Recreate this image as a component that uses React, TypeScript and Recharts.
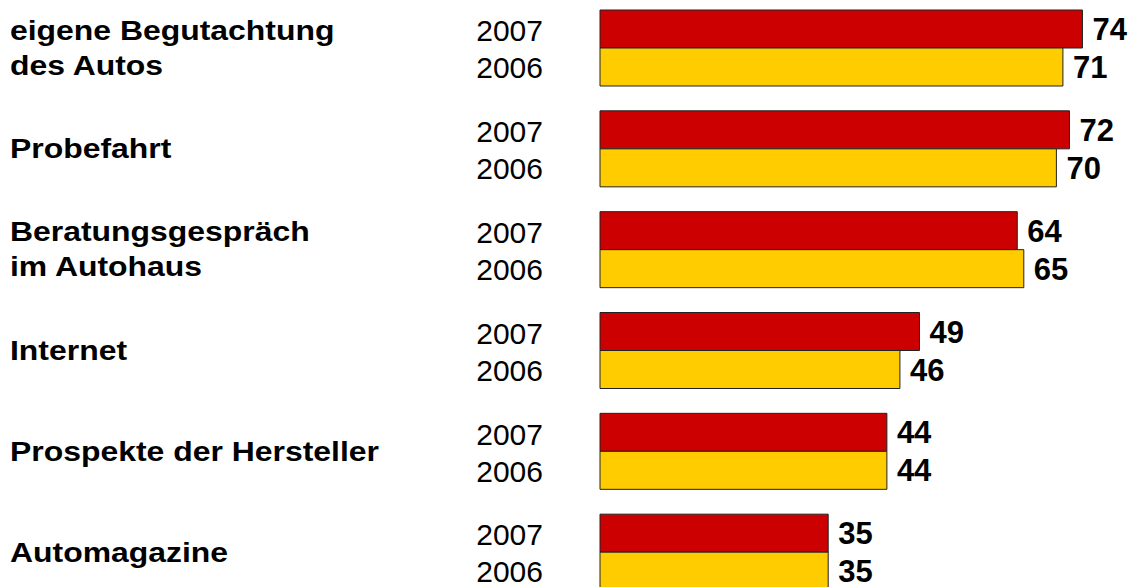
import React from 'react';
import { BarChart, Bar, XAxis, YAxis, LabelList } from 'recharts';

const categories = [
  'eigene Begutachtung\ndes Autos',
  'Probefahrt',
  'Beratungsgespräch\nim Autohaus',
  'Internet',
  'Prospekte der Hersteller',
  'Automagazine',
];
const values2007 = [74, 72, 64, 49, 44, 35];
const values2006 = [71, 70, 65, 46, 44, 35];
const years = ['2007', '2006'];

const data = categories.map((name, i) => ({
  name,
  y2007: values2007[i],
  y2006: values2006[i],
}));

const FONT = '"Liberation Sans", Arial, Helvetica, sans-serif';

function CategoryTick(props: any) {
  const { y, payload } = props;
  const lines: string[] = String(payload.value).split('\n');
  const offsets = lines.length === 1 ? [-1] : [-19, 16];
  return (
    <g>
      {lines.map((line, i) => (
        <text
          key={line}
          x={0}
          y={0}
          dy="0.36em"
          transform={`translate(10, ${y + offsets[i]}) scale(1.14, 1)`}
          textAnchor="start"
          fontFamily={FONT}
          fontWeight="bold"
          fontSize={28}
          fill="#000"
        >
          {line}
        </text>
      ))}
      {years.map((yr, i) => (
        <text
          key={yr}
          x={543}
          y={y + (i === 0 ? -18 : 19)}
          dy="0.36em"
          textAnchor="end"
          fontFamily={FONT}
          fontSize={30}
          fill="#000"
        >
          {yr}
        </text>
      ))}
    </g>
  );
}

const labelStyle = { fontFamily: FONT, fontWeight: 'bold', fontSize: 31, fill: '#000' };

export default function App() {
  return (
    <div style={{ position: 'absolute', left: 0, top: 0, width: 1132, height: 587, overflow: 'hidden', background: '#fff' }}>
      <div style={{ marginTop: -2 }}>
        <BarChart
          width={1132}
          height={605}
          data={data}
          layout="vertical"
          margin={{ top: 0, right: 10.4, bottom: 0, left: 0 }}
          barCategoryGap={12}
          barGap={0}
        >
          <XAxis type="number" domain={[0, 80]} hide />
          <YAxis
            type="category"
            dataKey="name"
            width={600}
            axisLine={false}
            tickLine={false}
            tick={<CategoryTick />}
            interval={0}
          />
          <Bar dataKey="y2007" fill="#CC0000" stroke="#222" strokeWidth={1} isAnimationActive={false}>
            <LabelList dataKey="y2007" position="right" offset={10} style={labelStyle} />
          </Bar>
          <Bar dataKey="y2006" fill="#FFCC00" stroke="#222" strokeWidth={1} isAnimationActive={false}>
            <LabelList dataKey="y2006" position="right" offset={10} style={labelStyle} />
          </Bar>
        </BarChart>
      </div>
    </div>
  );
}
